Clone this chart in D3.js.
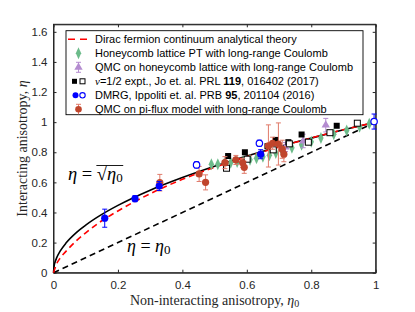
<!DOCTYPE html>
<html>
<head>
<meta charset="utf-8">
<script src="https://cdn.jsdelivr.net/npm/d3@7"></script>
<style>
  body { margin: 0; background: #fff; }
  svg { display: block; }
</style>
</head>
<body>
<script>
/* theory curves */
const sqrtX = [0, 0.002, 0.005, 0.01, 0.02, 0.04, 0.07, 0.1, 0.15, 0.2, 0.3, 0.4, 0.5, 0.6, 0.7, 0.8, 0.9, 1];
const sqrtY = [0, 0.045, 0.071, 0.1, 0.141, 0.2, 0.265, 0.316, 0.387, 0.447, 0.548, 0.632, 0.707, 0.775, 0.837, 0.894, 0.949, 1];
const diracX = [0, 0.01, 0.02, 0.04, 0.07, 0.1, 0.15, 0.2, 0.25, 0.3, 0.4, 0.5, 0.6, 0.7, 0.8, 0.9, 1];
const diracY = [0, 0.06, 0.095, 0.145, 0.21, 0.265, 0.345, 0.41, 0.47, 0.525, 0.62, 0.7, 0.77, 0.835, 0.895, 0.95, 1];
const linX = [0, 1];
const linY = [0, 1];

/* honeycomb lattice PT */
const ptX = [0.49, 0.51, 0.53, 0.55, 0.57, 0.59, 0.61, 0.63, 0.65, 0.67, 0.69, 0.71, 0.74, 0.77, 0.80, 0.83, 0.87, 0.91, 0.95, 0.98];
const ptY = [0.72, 0.72, 0.725, 0.73, 0.735, 0.74, 0.75, 0.76, 0.77, 0.78, 0.795, 0.805, 0.83, 0.85, 0.87, 0.895, 0.92, 0.945, 0.97, 0.99];

/* QMC honeycomb with long-range Coulomb */
const qmcHX = [0.72, 0.775, 0.845];
const qmcHY = [0.835, 0.875, 0.98];
const qmcHE = [0.03, 0.045, 0.045];

/* nu=1/2 experiment, filled and open squares */
const expFX = [0.542, 0.594, 0.664, 0.69, 0.729, 0.77, 0.879];
const expFY = [0.775, 0.8, 0.84, 0.882, 0.867, 0.918, 0.976];
const expOX = [0.537, 0.601, 0.682, 0.732, 0.791, 0.858, 0.943];
const expOY = [0.694, 0.754, 0.816, 0.856, 0.867, 0.93, 0.993];

/* DMRG filled and open circles */
const dmrgFX = [0.159, 0.253, 0.328, 0.643];
const dmrgFY = [0.362, 0.492, 0.576, 0.787];
const dmrgFE = [0.06, 0.02, 0.03, 0.03];
const dmrgOX = [0.444, 0.639, 0.995];
const dmrgOY = [0.716, 0.86, 1.004];
const dmrgOE = [0.02, 0.02, 0.05];

/* QMC pi-flux with long-range Coulomb */
const piX = [0.33, 0.452, 0.472, 0.532, 0.566, 0.587, 0.592, 0.667, 0.68, 0.698, 0.71, 0.715];
const piY = [0.598, 0.656, 0.60, 0.731, 0.749, 0.73, 0.70, 0.842, 0.86, 0.855, 0.82, 0.787];
const piE = [0.055, 0.05, 0.05, 0.04, 0.03, 0.03, 0.04, 0.14, 0.04, 0.14, 0.06, 0.05];

const xTicks = [0, 0.2, 0.4, 0.6, 0.8, 1];
const yTicks = [0, 0.2, 0.4, 0.6, 0.8, 1, 1.2, 1.4, 1.6];

const legendLabels = [
  "Dirac fermion continuum analytical theory",
  "Honeycomb lattice PT with long-range Coulomb",
  "QMC on honeycomb lattice with long-range Coulomb",
  "expt",
  "DMRG",
  "QMC on pi-flux model with long-range Coulomb"
];

const width = 415, height = 312;
const sans = "'Liberation Sans', Arial, Helvetica, sans-serif";
const serif = "'Liberation Serif', 'Times New Roman', serif";
const axisCol = "#262626";
const green = "#6cbb8a", purple = "#b48cd0", blue = "#0000ff", brown = "#c0452c", errRed = "#e07a6a";

const svg = d3.select("body").append("svg")
  .attr("width", width).attr("height", height);

const x = d3.scaleLinear().domain([0, 1]).range([53.5, 375.7]);
const y = d3.scaleLinear().domain([0, 1.65]).range([272.7, 24.3]);

const zip = (a, b, c) => a.map((v, i) => ({ x: v, y: b[i], e: c ? c[i] : 0 }));

/* axes box with inward ticks */
const g = svg.append("g");
g.append("rect")
  .attr("x", x(0)).attr("y", y(1.65))
  .attr("width", x(1) - x(0)).attr("height", y(0) - y(1.65))
  .attr("fill", "none").attr("stroke", axisCol).attr("stroke-width", 1);

const axB = g.append("g").attr("transform", `translate(0,${y(0)})`)
  .call(d3.axisBottom(x).tickValues(xTicks).tickSizeInner(-3).tickSizeOuter(0).tickPadding(8)
    .tickFormat(d => d === 0 || d === 1 ? d : d3.format(".1f")(d)));
const axT = g.append("g").attr("transform", `translate(0,${y(1.65)})`)
  .call(d3.axisTop(x).tickValues(xTicks).tickSizeInner(-3).tickSizeOuter(0).tickFormat(""));
const axL = g.append("g").attr("transform", `translate(${x(0)},0)`)
  .call(d3.axisLeft(y).tickValues(yTicks).tickSizeInner(-3).tickSizeOuter(0).tickPadding(6)
    .tickFormat(d => d === 0 || d === 1 ? d : d3.format(".1f")(d)));
const axR = g.append("g").attr("transform", `translate(${x(1)},0)`)
  .call(d3.axisRight(y).tickValues(yTicks).tickSizeInner(-3).tickSizeOuter(0).tickFormat(""));

[axB, axT, axL, axR].forEach(a => {
  a.select(".domain").attr("stroke", axisCol);
  a.selectAll(".tick line").attr("stroke", axisCol);
  a.selectAll("text").attr("fill", axisCol).attr("font-family", sans).attr("font-size", 11.5);
});

/* axis titles */
const xt = svg.append("text").attr("x", 214.6).attr("y", 305)
  .attr("text-anchor", "middle").attr("font-family", serif).attr("font-size", 14).attr("fill", axisCol);
xt.append("tspan").text("Non-interacting anisotropy, ");
xt.append("tspan").attr("font-style", "italic").text("η");
xt.append("tspan").attr("font-size", 10).attr("dy", 2).text("0");

const yt = svg.append("text").attr("transform", "translate(27,148.5) rotate(-90)")
  .attr("text-anchor", "middle").attr("font-family", serif).attr("font-size", 14).attr("fill", axisCol);
yt.append("tspan").text("Interacting anisotropy, ");
yt.append("tspan").attr("font-style", "italic").text("η");

/* lines */
const line = d3.line().x(d => x(d.x)).y(d => y(d.y)).curve(d3.curveMonotoneX);
svg.append("path").datum(zip(linX, linY)).attr("d", line)
  .attr("fill", "none").attr("stroke", "#000").attr("stroke-width", 1.6).attr("stroke-dasharray", "6,4");
svg.append("path").datum(zip(sqrtX, sqrtY)).attr("d", line)
  .attr("fill", "none").attr("stroke", "#000").attr("stroke-width", 1.6);
svg.append("path").datum(zip(diracX, diracY)).attr("d", line)
  .attr("fill", "none").attr("stroke", "#ff0000").attr("stroke-width", 1.6).attr("stroke-dasharray", "6,4");

/* marker helpers */
const diamond = d3.symbol().type(d3.symbolDiamond).size(34);
const tri = d3.symbol().type(d3.symbolTriangle).size(30);

function errBars(sel, data, col) {
  const eb = sel.append("g").selectAll("g").data(data).join("g")
    .attr("stroke", col).attr("stroke-width", 1);
  eb.append("line").attr("x1", d => x(d.x)).attr("x2", d => x(d.x))
    .attr("y1", d => y(d.y - d.e)).attr("y2", d => y(d.y + d.e));
  eb.append("line").attr("x1", d => x(d.x) - 2.5).attr("x2", d => x(d.x) + 2.5)
    .attr("y1", d => y(d.y - d.e)).attr("y2", d => y(d.y - d.e));
  eb.append("line").attr("x1", d => x(d.x) - 2.5).attr("x2", d => x(d.x) + 2.5)
    .attr("y1", d => y(d.y + d.e)).attr("y2", d => y(d.y + d.e));
}

const pts = svg.append("g");

/* PT diamonds */
pts.append("g").selectAll("path").data(zip(ptX, ptY)).join("path")
  .attr("d", diamond).attr("transform", d => `translate(${x(d.x)},${y(d.y)}) scale(0.85,1.1)`)
  .attr("fill", green);

/* QMC honeycomb */
const qh = zip(qmcHX, qmcHY, qmcHE);
errBars(pts, qh, purple);
pts.append("g").selectAll("path").data(qh).join("path")
  .attr("d", tri).attr("transform", d => `translate(${x(d.x)},${y(d.y)})`)
  .attr("fill", purple);

/* experiment squares */
pts.append("g").selectAll("rect").data(zip(expFX, expFY)).join("rect")
  .attr("x", d => x(d.x) - 3).attr("y", d => y(d.y) - 3).attr("width", 6).attr("height", 6)
  .attr("fill", "#000");
pts.append("g").selectAll("rect").data(zip(expOX, expOY)).join("rect")
  .attr("x", d => x(d.x) - 3).attr("y", d => y(d.y) - 3).attr("width", 6).attr("height", 6)
  .attr("fill", "#fff").attr("stroke", "#000").attr("stroke-width", 1);

/* pi-flux QMC */
const pf = zip(piX, piY, piE);
errBars(pts, pf, errRed);
pts.append("g").selectAll("circle").data(pf).join("circle")
  .attr("cx", d => x(d.x)).attr("cy", d => y(d.y)).attr("r", 3.6)
  .attr("fill", brown);

/* DMRG */
const df = zip(dmrgFX, dmrgFY, dmrgFE);
const dof = zip(dmrgOX, dmrgOY, dmrgOE);
errBars(pts, df, blue);
errBars(pts, dof, blue);
pts.append("g").selectAll("circle").data(df).join("circle")
  .attr("cx", d => x(d.x)).attr("cy", d => y(d.y)).attr("r", 3.6).attr("fill", blue);
pts.append("g").selectAll("circle").data(dof).join("circle")
  .attr("cx", d => x(d.x)).attr("cy", d => y(d.y)).attr("r", 3.2)
  .attr("fill", "#fff").attr("stroke", blue).attr("stroke-width", 1.2);

/* annotations */
const a1 = svg.append("text").attr("x", 68).attr("y", 180)
  .attr("font-family", serif).attr("font-size", 18.5).attr("fill", "#000");
a1.append("tspan").attr("font-style", "italic").text("η");
a1.append("tspan").text(" = √");
a1.append("tspan").attr("font-style", "italic").text("η");
a1.append("tspan").attr("font-size", 13).attr("dy", 2).text("0");
{
  const n = a1.text().length;
  const s = a1.node().getExtentOfChar(n - 3);
  const e = a1.node().getExtentOfChar(n - 1);
  svg.append("line").attr("x1", s.x - 0.5).attr("x2", e.x + e.width + 0.5)
    .attr("y1", s.y + 1.5).attr("y2", s.y + 1.5).attr("stroke", "#000").attr("stroke-width", 0.9);
}

const a2 = svg.append("text").attr("x", 127).attr("y", 252)
  .attr("font-family", serif).attr("font-size", 18).attr("fill", "#000");
a2.append("tspan").attr("font-style", "italic").text("η");
a2.append("tspan").text(" = ");
a2.append("tspan").attr("font-style", "italic").text("η");
a2.append("tspan").attr("font-size", 13).attr("dy", 2).text("0");

/* legend */
const lg = svg.append("g");
lg.append("rect").attr("x", 66).attr("y", 30.7).attr("width", 297).attr("height", 84)
  .attr("fill", "#fff").attr("stroke", "#000").attr("stroke-width", 0.9);
const rowY = i => 39.3 + i * 14;
const mx = 78.5;
legendLabels.forEach((lab, i) => {
  const t = lg.append("text").attr("x", 95).attr("y", rowY(i) + 4)
    .attr("font-family", sans).attr("font-size", 11).attr("fill", "#000");
  if (i === 3) {
    t.append("tspan").attr("font-family", serif).attr("font-style", "italic").text("ν");
    t.append("tspan").text("=1/2 expt., Jo et. al. PRL ");
    t.append("tspan").attr("font-weight", "bold").text("119");
    t.append("tspan").text(", 016402 (2017)");
  } else if (i === 4) {
    t.append("tspan").text("DMRG, Ippoliti et. al. PRB ");
    t.append("tspan").attr("font-weight", "bold").text("95");
    t.append("tspan").text(", 201104 (2016)");
  } else {
    t.text(lab);
  }
});
lg.append("line").attr("x1", 68).attr("x2", 90).attr("y1", rowY(0)).attr("y2", rowY(0))
  .attr("stroke", "#ff0000").attr("stroke-width", 1.6).attr("stroke-dasharray", "7,5");
lg.append("path").attr("d", diamond).attr("transform", `translate(${mx},${rowY(1)}) scale(0.85,1.1)`).attr("fill", green);
lg.append("line").attr("x1", mx).attr("x2", mx).attr("y1", rowY(2) - 5).attr("y2", rowY(2) + 5).attr("stroke", purple);
lg.append("line").attr("x1", mx - 2.5).attr("x2", mx + 2.5).attr("y1", rowY(2) - 5).attr("y2", rowY(2) - 5).attr("stroke", purple);
lg.append("line").attr("x1", mx - 2.5).attr("x2", mx + 2.5).attr("y1", rowY(2) + 5).attr("y2", rowY(2) + 5).attr("stroke", purple);
lg.append("path").attr("d", tri).attr("transform", `translate(${mx},${rowY(2)})`).attr("fill", purple);
lg.append("rect").attr("x", 72).attr("y", rowY(3) - 2.5).attr("width", 5).attr("height", 5).attr("fill", "#000");
lg.append("rect").attr("x", 80).attr("y", rowY(3) - 2.5).attr("width", 5).attr("height", 5)
  .attr("fill", "#fff").attr("stroke", "#000");
lg.append("circle").attr("cx", 75.5).attr("cy", rowY(4)).attr("r", 3).attr("fill", blue);
lg.append("circle").attr("cx", 82.5).attr("cy", rowY(4)).attr("r", 2.7).attr("fill", "#fff").attr("stroke", blue).attr("stroke-width", 1.1);
lg.append("line").attr("x1", mx).attr("x2", mx).attr("y1", rowY(5) - 5).attr("y2", rowY(5) + 5).attr("stroke", errRed);
lg.append("line").attr("x1", mx - 2.5).attr("x2", mx + 2.5).attr("y1", rowY(5) - 5).attr("y2", rowY(5) - 5).attr("stroke", errRed);
lg.append("circle").attr("cx", mx).attr("cy", rowY(5)).attr("r", 3.3).attr("fill", brown);
</script>
</body>
</html>
